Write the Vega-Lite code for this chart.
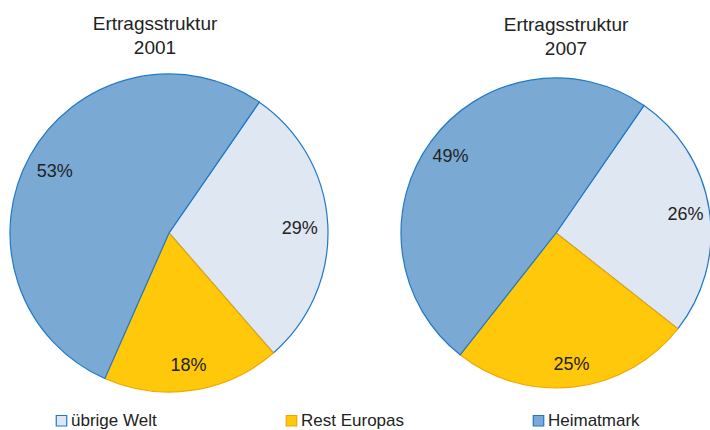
{
  "$schema": "https://vega.github.io/schema/vega-lite/v6.json",
  "padding": {"left": 0, "top": 14, "right": 0, "bottom": 0},
  "background": "white",
  "config": {
    "view": {"stroke": null},
    "font": "Liberation Sans",
    "title": {"fontSize": 19, "fontWeight": "normal", "color": "#222222", "font": "Liberation Sans", "lineHeight": 24, "offset": 14}
  },
  "data": {"values": [
    {"jahr": "2001", "kat": "übrige Welt", "anteil": 29, "ord": 1, "label": "29%"},
    {"jahr": "2001", "kat": "Rest Europas", "anteil": 18, "ord": 2, "label": "18%"},
    {"jahr": "2001", "kat": "Heimatmark", "anteil": 53, "ord": 3, "label": "53%"},
    {"jahr": "2007", "kat": "übrige Welt", "anteil": 26, "ord": 1, "label": "26%"},
    {"jahr": "2007", "kat": "Rest Europas", "anteil": 25, "ord": 2, "label": "25%"},
    {"jahr": "2007", "kat": "Heimatmark", "anteil": 49, "ord": 3, "label": "49%"}
  ]},
  "spacing": 49,
  "hconcat": [
    {
      "title": {"text": ["Ertragsstruktur", "2001"], "dx": -14},
      "width": 338,
      "height": 320,
      "transform": [{"filter": "datum.jahr == '2001'"}],
      "encoding": {
        "theta": {"field": "anteil", "type": "quantitative", "stack": true, "scale": {"range": [0.604, 6.887]}},
        "order": {"field": "ord", "type": "quantitative"}
      },
      "layer": [
        {
          "mark": {"type": "arc", "outerRadius": 159, "strokeWidth": 1.2},
          "encoding": {
            "fill": {"field": "kat", "type": "nominal", "scale": {"domain": ["übrige Welt", "Rest Europas", "Heimatmark"], "range": ["#dfe7f3", "#ffc80a", "#7aaad4"]}, "legend": {"orient": "none", "legendX": 53, "legendY": 339, "direction": "horizontal", "title": null, "symbolType": "square", "symbolSize": 110, "symbolStrokeWidth": 1.2, "labelFontSize": 17, "labelColor": "#222222", "labelFont": "Liberation Sans", "columnPadding": 126, "labelOffset": 1}},
            "stroke": {"field": "kat", "type": "nominal", "scale": {"domain": ["übrige Welt", "Rest Europas", "Heimatmark"], "range": ["#1f78c8", "#f0a800", "#1f78c8"]}, "legend": {"orient": "none", "legendX": 53, "legendY": 339, "direction": "horizontal", "title": null, "symbolType": "square", "symbolSize": 110, "symbolStrokeWidth": 1.2, "labelFontSize": 17, "labelColor": "#222222", "labelFont": "Liberation Sans", "columnPadding": 126, "labelOffset": 1}}
          }
        },
        {
          "mark": {"type": "text", "radius": 131, "dy": 3, "fontSize": 18, "color": "#222222", "font": "Liberation Sans"},
          "encoding": {"text": {"field": "label"}}
        }
      ]
    },
    {
      "title": {"text": ["Ertragsstruktur", "2007"], "dx": 10},
      "width": 338,
      "height": 320,
      "transform": [{"filter": "datum.jahr == '2007'"}],
      "encoding": {
        "theta": {"field": "anteil", "type": "quantitative", "stack": true, "scale": {"range": [0.604, 6.887]}},
        "order": {"field": "ord", "type": "quantitative"}
      },
      "layer": [
        {
          "mark": {"type": "arc", "outerRadius": 155, "strokeWidth": 1.2},
          "encoding": {
            "fill": {"field": "kat", "type": "nominal"},
            "stroke": {"field": "kat", "type": "nominal"}
          }
        },
        {
          "mark": {"type": "text", "radius": 131, "dy": 2, "fontSize": 18, "color": "#222222", "font": "Liberation Sans"},
          "encoding": {"text": {"field": "label"}}
        }
      ]
    }
  ]
}
